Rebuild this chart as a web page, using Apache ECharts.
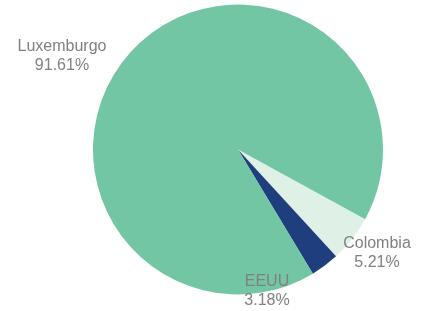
<!DOCTYPE html>
<html><head><meta charset="utf-8">
<script src="https://cdn.jsdelivr.net/npm/echarts@6/dist/echarts.min.js"></script>
<style>html,body{margin:0;padding:0;background:#fff}#c{width:423px;height:311px}</style>
</head><body><div id="c"></div>
<script>
const categories = ['Colombia', 'EEUU', 'Luxemburgo'];
const values = [5.21, 3.18, 91.61];
const colors = ['#dff0e7', '#1e3e7e', '#73c6a4'];

const labelAnchors = {
  'Colombia': [377, 253.5],
  'EEUU': [267, 291],
  'Luxemburgo': [62, 56]
};

const chart = echarts.init(document.getElementById('c'), null, {renderer: 'canvas'});
chart.setOption({
  animation: false,
  series: [{
    type: 'pie',
    center: [238, 149.5],
    radius: 145,
    startAngle: -28.7,
    clockwise: true,
    avoidLabelOverlap: false,
    data: categories.map((c, i) => ({name: c, value: values[i], itemStyle: {color: colors[i]}})),
    label: {
      show: true,
      position: 'outside',
      formatter: '{b}\n{d}%',
      color: '#808080',
      fontSize: 16,
      lineHeight: 19,
      fontFamily: 'Liberation Sans, Arial, sans-serif',
      align: 'center'
    },
    labelLine: {show: false},
    labelLayout: function (p) {
      const a = labelAnchors[categories[p.dataIndex]];
      return {x: a[0], y: a[1], align: 'center', verticalAlign: 'middle', hideOverlap: false};
    }
  }]
});
</script></body></html>
